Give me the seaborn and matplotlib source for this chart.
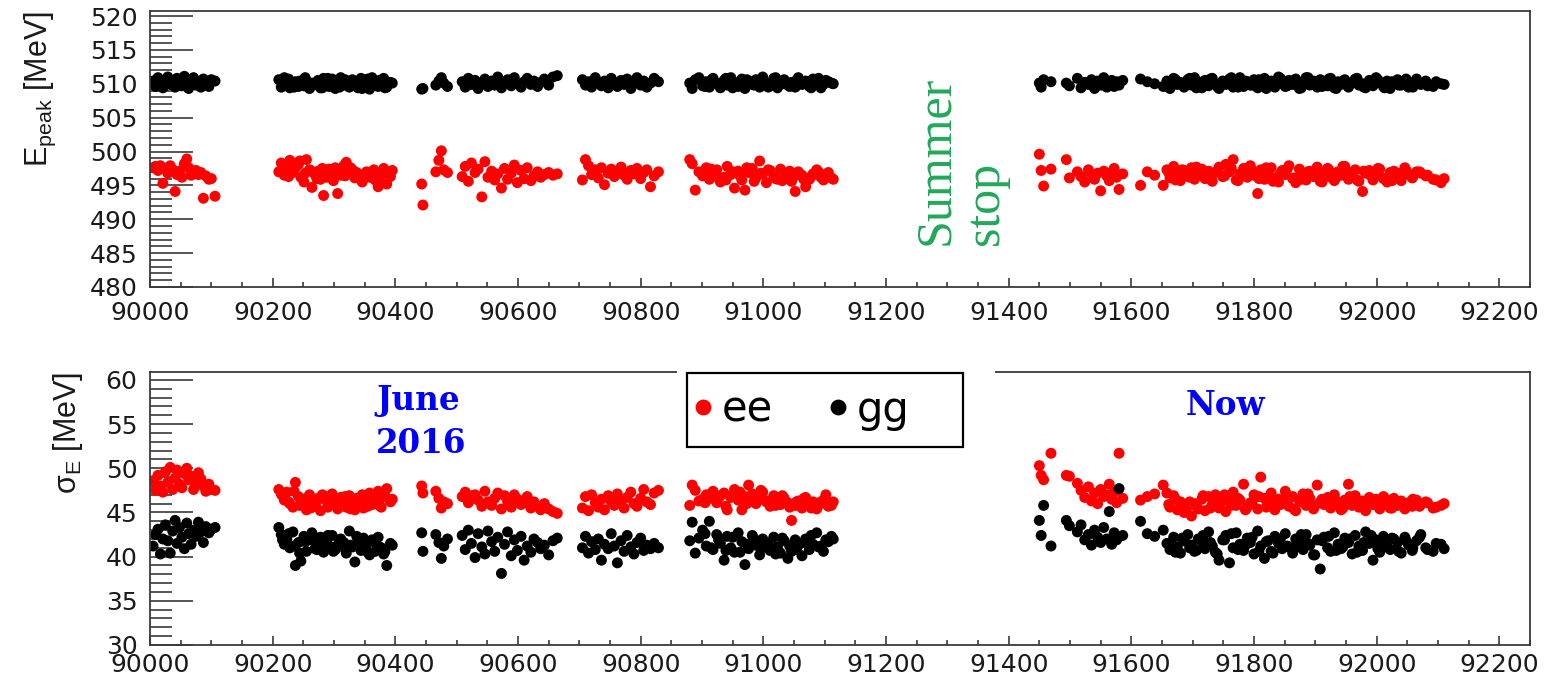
import matplotlib
matplotlib.use("Agg")
import matplotlib.pyplot as plt
import pandas as pd
import seaborn as sns
from matplotlib.ticker import MultipleLocator
from matplotlib.patches import Rectangle

# ---------------- data ----------------
run = [
    # block 1
    90005, 90009, 90013, 90017, 90021, 90025, 90029, 90033, 90037, 90041, 90044, 90048, 90052,
    90056, 90060, 90063, 90067, 90071, 90075, 90079, 90083, 90087, 90091, 90096, 90100, 90106,
    # block 2
    90210, 90214, 90219, 90223, 90228, 90233, 90237, 90242, 90246, 90251, 90255, 90260, 90264,
    90269, 90274, 90278, 90283, 90288, 90292, 90297, 90302, 90306, 90311, 90316, 90320, 90325,
    90330, 90334, 90339, 90344, 90348, 90353, 90358, 90362, 90367, 90372, 90377, 90381, 90386, 90392,
    # block 3
    90443, 90445, 90466, 90471, 90475, 90479, 90485,
    90509, 90514, 90519, 90524, 90530, 90535, 90541, 90546, 90551, 90557, 90562, 90567, 90573,
    90578, 90583, 90589, 90594, 90599, 90605, 90610, 90615, 90621, 90626, 90632, 90637, 90643,
    90650, 90657, 90664,
    # block 4
    90705, 90710, 90715, 90720, 90726, 90731, 90736, 90741, 90747, 90752, 90757, 90762, 90768,
    90773, 90778, 90784, 90789, 90794, 90800, 90805, 90810, 90816, 90822, 90829,
    # block 5
    90880, 90884, 90889, 90895, 90901, 90907, 90912, 90918, 90924, 90930, 90936, 90941, 90947,
    90953, 90959, 90965, 90970, 90976, 90982, 90988, 90994, 90999, 91005, 91011, 91017, 91023,
    91028, 91034, 91040, 91046, 91052, 91057, 91063, 91069, 91075, 91081, 91087, 91094, 91102, 91111,
    # block 6
    91450, 91453, 91457, 91469, 91494, 91499, 91512, 91518, 91524, 91530, 91535, 91540, 91545,
    91550, 91555, 91560, 91564, 91568, 91572, 91576, 91580, 91586,
    # block 7
    91615, 91626, 91638, 91652, 91658, 91663, 91669, 91675, 91680, 91686,
    91692, 91698, 91703, 91709, 91715, 91720, 91726, 91732, 91737, 91743,
    91749, 91754, 91760, 91766, 91771, 91777, 91783, 91789, 91794, 91800,
    91806, 91811, 91817, 91823, 91828, 91834, 91840, 91846, 91851, 91857,
    91863, 91868, 91874, 91880, 91885, 91891, 91897, 91903, 91908, 91914,
    91920, 91925, 91931, 91937, 91942, 91948, 91954, 91960, 91965, 91971,
    91977, 91982, 91988, 91994, 91999, 92005, 92011, 92017, 92022, 92028,
    92034, 92040, 92046, 92052, 92058, 92065, 92072, 92080, 92092, 92105,
    # further runs of block 7
    91661, 91672, 91683, 91695, 91706, 91717, 91729, 91740, 91752, 91763,
    91774, 91786, 91797, 91808, 91820, 91831, 91843, 91854, 91865, 91877,
    91888, 91899, 91911, 91922, 91934, 91945, 91956, 91968, 91979, 91991,
    92002, 92013, 92025, 92036, 92048, 92059, 92070, 92083, 92097, 92110,
    # further runs of block 2
    90216, 90226, 90235, 90244, 90253, 90262, 90272, 90281, 90290, 90299,
    90309, 90318, 90327, 90337, 90346, 90355, 90365, 90374, 90383, 90395,
    # further runs of block 5
    90905, 90915, 90927, 90939, 90950, 90962, 90973, 90985, 90996, 91008,
    91020, 91031, 91043, 91054, 91066, 91078, 91090, 91098, 91106, 91114,
]

epeak_ee = [
    497.6, 497.8, 497.2, 497.9, 495.3, 497.5, 496.8, 497.9, 497.3, 494.1, 496.6, 497.1, 496.2,
    498.2, 498.9, 497.6, 496.5, 496.9, 497.2, 496.6, 496.9, 493.1, 496.4, 495.9, 496.0, 493.4,
    497.0, 498.3, 496.5, 497.8, 498.7, 496.9, 497.6, 498.1, 496.2, 495.5, 498.8, 497.3, 494.7,
    496.6, 497.1, 495.9, 493.5, 496.2, 497.4, 496.8, 497.6, 493.8, 496.5, 497.9, 498.4, 496.9,
    497.3, 496.1, 496.7, 495.9, 496.4, 497.0, 496.2, 496.6, 495.8, 494.8, 496.9, 497.5, 495.2, 496.3,
    495.2, 492.1, 497.0, 498.7, 500.1, 497.3, 496.9,
    496.3, 497.8, 495.6, 498.3, 496.9, 497.4, 493.3, 498.5, 496.2, 497.1, 495.8, 496.7, 494.6,
    497.5, 495.9, 496.8, 498.0, 495.4, 497.2, 496.0, 497.6, 495.7, 496.4, 497.0, 496.2, 496.6,
    496.9, 496.5, 496.7,
    495.8, 498.8, 497.9, 496.6, 497.3, 496.1, 497.6, 495.1, 496.8, 497.4, 496.3, 497.0, 497.7,
    496.5, 495.9, 497.2, 496.7, 497.5, 496.0, 496.9, 497.3, 494.8, 496.4, 497.0,
    498.8, 498.2, 494.3, 497.0, 496.4, 497.6, 495.9, 496.8, 497.3, 495.5, 496.2, 497.8, 496.6,
    494.6, 497.1, 495.8, 494.3, 496.9, 497.5, 496.1, 498.6, 496.7, 495.4, 497.2, 496.3, 495.9,
    497.4, 496.0, 496.8, 495.6, 494.1, 497.0, 496.5, 494.8, 495.9, 496.7, 497.3, 496.2, 496.6, 496.1,
    499.6, 497.2, 494.9, 497.4, 498.8, 496.1, 497.0, 496.3, 495.5, 497.3, 496.6, 495.9, 496.8,
    494.2, 497.1, 496.4, 495.7, 496.9, 497.5, 496.2, 494.4, 496.7,
    495.0, 497.0, 496.5, 495.0, 497.3, 496.1, 497.8, 496.6, 495.7, 497.2,
    496.4, 497.6, 495.9, 496.8, 497.4, 496.0, 497.1, 495.6, 496.9, 497.7,
    496.3, 498.1, 497.0, 498.8, 495.8, 496.7, 497.5, 496.2, 497.9, 496.5,
    493.8, 497.3, 495.9, 496.8, 497.6, 496.1, 495.5, 497.2, 496.6, 497.9,
    496.0, 495.4, 497.4, 496.7, 495.8, 497.1, 496.3, 497.7, 495.6, 496.9,
    497.5, 496.2, 495.7, 497.0, 496.5, 497.8, 495.9, 496.4, 497.3, 495.6,
    494.1, 496.8, 497.2, 495.8, 496.5, 497.4, 496.0, 495.5, 496.9, 497.1,
    496.3, 495.7, 497.6, 496.6, 496.1, 497.0, 496.8, 496.4, 495.9, 495.4,
    496.9, 495.8, 497.3, 496.2, 497.7, 496.5, 495.9, 497.1, 496.4, 497.5,
    495.7, 496.8, 497.2, 496.0, 497.6, 495.6, 496.7, 497.4, 496.1, 495.9,
    497.0, 496.6, 495.5, 497.3, 496.2, 497.8, 496.9, 495.8, 497.1, 496.4,
    497.5, 496.0, 495.7, 496.8, 497.2, 496.3, 497.0, 496.5, 495.8, 496.0,
    497.4, 496.3, 497.9, 498.6, 496.8, 497.2, 496.0, 497.5, 496.6, 495.7,
    497.1, 496.4, 497.6, 496.9, 495.5, 496.7, 497.3, 496.1, 496.8, 497.2,
    496.9, 497.4, 496.1, 495.8, 497.0, 496.4, 497.6, 495.6, 496.8, 497.3,
    496.0, 495.7, 497.1, 496.5, 495.9, 496.3, 497.0, 495.8, 496.9, 495.9,
]

epeak_gg = [
    510.4, 509.6, 510.9, 510.1, 509.4, 510.6, 511.0, 509.9, 510.3, 509.5, 510.8, 510.2, 509.7,
    511.1, 510.0, 509.3, 510.5, 510.9, 509.8, 510.2, 509.5, 510.7, 510.1, 509.6, 510.6, 510.4,
    510.6, 509.5, 510.9, 510.2, 509.4, 509.8, 510.3, 509.6, 510.0, 509.7, 510.4, 509.3, 510.1,
    509.9, 510.5, 509.4, 510.8, 510.0, 509.6, 510.7, 509.3, 510.2, 510.9, 509.8, 510.4, 509.5,
    510.6, 510.1, 509.4, 510.8, 509.7, 510.3, 509.2, 510.9, 510.0, 509.6, 510.5, 510.8, 509.5, 510.2,
    509.2, 509.3, 509.8, 510.4, 510.9, 510.1, 509.6,
    510.3, 509.5, 510.8, 509.9, 510.5, 509.3, 510.1, 510.7, 509.6, 510.4, 509.8, 511.0, 509.4,
    510.2, 510.6, 509.7, 510.9, 510.0, 509.5, 510.3, 510.8, 509.9, 510.4, 509.6, 510.2, 510.7,
    509.8, 511.0, 511.2,
    510.6, 509.8, 510.3, 509.5, 510.9, 510.1, 509.7, 510.4, 509.4, 510.8, 510.0, 509.6, 510.5,
    509.9, 510.7, 509.3, 510.2, 510.9, 509.8, 510.4, 509.5, 510.1, 510.8, 510.3,
    510.1, 509.3, 510.6, 510.9, 509.7, 510.3, 509.5, 510.8, 510.0, 509.4, 510.5, 509.8, 510.9,
    510.2, 509.6, 510.7, 509.3, 510.4, 509.9, 510.6, 509.5, 511.0, 510.1, 509.7, 510.8, 509.4,
    510.3, 510.6, 509.8, 510.2, 509.5, 510.9, 509.9, 510.4, 509.6, 510.7, 510.0, 509.4, 510.5, 510.1,
    510.1, 509.5, 510.6, 510.3, 510.1, 509.7, 510.8, 509.4, 510.2, 509.9, 510.6, 509.3, 510.4,
    509.8, 510.9, 509.5, 510.0, 510.5, 509.6, 510.3, 509.8, 510.5,
    510.7, 510.3, 510.0, 509.6, 510.4, 509.3, 510.8, 509.9, 510.2, 509.5,
    510.6, 509.8, 510.9, 510.1, 509.4, 510.5, 509.7, 510.8, 510.0, 509.3,
    510.4, 509.9, 510.7, 509.5, 510.2, 510.9, 509.6, 510.3, 509.8, 510.6,
    509.4, 510.1, 510.8, 509.7, 510.4, 509.5, 511.0, 510.0, 509.6, 510.5,
    509.9, 510.7, 509.3, 510.2, 510.9, 509.8, 510.4, 509.5, 510.6, 510.1,
    509.7, 510.8, 509.4, 510.3, 509.9, 510.6, 509.5, 510.2, 510.7, 509.8,
    510.0, 509.4, 510.5, 509.7, 510.9, 510.2, 509.6, 510.4, 509.3, 510.0,
    510.6, 509.8, 510.3, 509.5, 510.1, 510.7, 509.9, 510.4, 509.6, 510.0,
    509.5, 510.6, 509.9, 510.8, 509.4, 510.3, 510.7, 509.6, 510.1, 510.9,
    509.5, 510.4, 509.8, 510.6, 509.3, 510.2, 510.8, 509.7, 510.5, 509.4,
    510.9, 510.0, 509.6, 510.7, 509.3, 510.4, 509.9, 510.8, 509.5, 510.2,
    510.6, 509.4, 510.3, 509.8, 510.7, 509.5, 510.1, 509.7, 510.3, 509.9,
    509.9, 510.7, 509.5, 510.4, 510.9, 509.6, 510.2, 509.4, 510.8, 510.0,
    509.5, 510.6, 509.8, 510.3, 509.3, 510.7, 509.9, 510.5, 509.4, 510.1,
    509.6, 510.5, 510.0, 510.8, 509.4, 510.2, 510.6, 509.8, 510.3, 509.5,
    510.9, 510.0, 509.6, 510.5, 510.2, 509.4, 510.8, 509.9, 510.3, 510.0,
]

sigma_ee = [
    48.6, 47.5, 49.2, 48.0, 47.3, 49.6, 48.4, 50.1, 47.6, 48.9, 49.8, 48.2, 47.8,
    49.4, 50.0, 48.7, 49.1, 47.6, 48.3, 49.5, 48.8, 48.0, 47.4, 48.2, 47.6, 47.5,
    47.6, 47.1, 46.4, 47.3, 46.0, 45.6, 48.4, 46.8, 45.9, 46.5, 45.3, 47.0, 46.2,
    45.7, 46.6, 45.2, 46.9, 46.3, 45.8, 47.1, 46.0, 45.4, 46.7, 46.1, 45.6, 46.9,
    46.4, 45.3, 46.0, 46.7, 45.5, 46.2, 47.2, 45.9, 46.5, 47.4, 45.6, 46.8, 47.7, 46.2,
    48.0, 47.2, 47.4, 46.6, 45.5, 46.2, 46.0,
    46.8, 47.3, 46.1, 46.9, 47.0, 46.4, 45.7, 47.4, 46.2, 45.8, 46.6, 47.2, 45.4,
    46.9, 46.3, 45.6, 47.0, 46.5, 45.9, 46.1, 46.8, 45.5, 46.2, 45.7, 45.3, 46.0,
    45.4, 45.1, 44.9,
    45.5, 46.8, 45.2, 47.0, 46.1, 45.6, 46.5, 45.3, 46.9, 46.2, 45.8, 47.1, 46.4,
    45.5, 46.7, 47.3, 46.0, 45.7, 46.6, 47.6, 46.2, 45.9, 47.2, 47.5,
    45.8, 48.1, 47.5, 46.3, 46.5, 47.0, 46.6, 47.4, 46.1, 46.9, 47.2, 45.3, 46.7,
    47.6, 46.4, 45.3, 46.8, 48.1, 47.1, 46.0, 46.5, 47.3, 46.2, 45.7, 46.9, 46.4,
    45.9, 46.6, 46.1, 44.1, 45.8, 46.3, 45.5, 46.7, 45.9, 46.2, 45.4, 46.0, 47.0, 45.8,
    50.3, 49.2, 48.7, 51.7, 49.2, 49.1, 48.3, 47.5, 46.7, 47.9, 46.3, 47.2, 46.0,
    47.6, 46.8, 47.0, 48.2, 46.5, 47.3, 46.1, 51.7, 46.6,
    46.4, 46.8, 47.1, 48.1, 47.2, 45.6, 46.9, 45.3, 46.2, 45.0,
    45.7, 44.6, 46.0, 45.4, 46.5, 45.2, 46.8, 45.9, 47.0, 45.5,
    46.3, 45.1, 46.7, 47.3, 45.8, 46.4, 48.2, 45.6, 46.1, 47.0,
    45.4, 49.0, 46.6, 45.9, 47.2, 45.3, 46.5, 46.0, 47.4, 45.7,
    46.8, 45.2, 46.3, 47.1, 45.8, 46.6, 45.4, 48.1, 46.2, 45.9,
    46.7, 45.5, 47.0, 46.1, 45.3, 46.4, 48.2, 45.8, 46.9, 45.6,
    46.3, 45.2, 46.7, 45.9, 46.5, 45.4, 46.8, 46.0, 45.5, 46.6,
    45.8, 46.3, 45.4, 46.1, 45.7, 46.4, 45.9, 46.2, 45.5, 45.8,
    45.9, 46.5, 45.4, 46.2, 45.7, 46.9, 45.5, 46.3, 47.0, 45.8,
    46.6, 45.3, 46.1, 46.8, 45.6, 46.4, 45.9, 46.7, 45.4, 46.2,
    47.1, 45.7, 46.5, 45.9, 46.3, 45.5, 46.8, 46.0, 45.6, 46.4,
    45.8, 46.6, 45.5, 46.2, 45.9, 46.5, 45.7, 46.1, 45.6, 46.0,
    46.9, 46.2, 47.4, 45.8, 46.5, 45.5, 46.3, 47.0, 45.6, 46.4,
    45.9, 46.8, 45.4, 46.6, 47.0, 45.7, 46.3, 45.8, 46.9, 46.5,
    46.1, 47.1, 46.6, 45.7, 46.9, 47.3, 46.0, 46.7, 47.5, 46.3,
    45.8, 46.9, 45.6, 46.2, 46.6, 45.5, 46.1, 46.4, 45.7, 46.2,
]

sigma_gg = [
    41.2, 42.5, 43.1, 40.3, 42.0, 43.6, 41.8, 40.4, 42.9, 44.1, 41.5, 43.3, 42.2,
    40.9, 43.8, 42.6, 41.4, 43.0, 42.3, 43.9, 42.8, 41.6, 43.4, 42.7, 43.1, 43.3,
    43.3, 42.5, 41.4, 42.0, 41.0, 42.8, 39.0, 41.6, 39.5, 42.3, 40.6, 41.9, 42.7,
    40.9, 41.5, 42.2, 40.5, 41.8, 41.2, 42.4, 40.8, 41.3, 42.0, 41.6, 40.4, 42.9,
    41.1, 39.4, 41.7, 40.7, 42.1, 41.4, 40.2, 41.9, 40.6, 42.2, 41.0, 40.3, 39.0, 41.5,
    42.7, 40.6, 42.5, 41.6, 39.8, 41.2, 42.0,
    42.4, 40.8, 43.0, 41.5, 39.9, 42.6, 41.1, 40.3, 42.9, 41.7, 40.6, 42.2, 38.1,
    41.4, 42.8, 40.1, 41.9, 40.7, 42.3, 39.6, 41.2, 40.5, 42.0, 41.6, 40.9, 41.3,
    40.2, 41.8, 42.1,
    41.0, 42.3, 40.4, 41.7, 40.8, 42.0, 39.6, 41.4, 40.9, 42.6, 41.2, 39.3, 41.8,
    40.6, 42.4, 41.1, 40.3, 41.6, 42.1, 40.7, 41.3, 40.9, 41.5, 41.0,
    41.8, 43.9, 40.4, 42.1, 43.0, 41.2, 44.0, 40.8, 42.5, 41.5, 39.6, 42.3, 41.0,
    40.5, 42.7, 41.7, 39.1, 40.9, 42.4, 41.3, 40.2, 42.0, 41.6, 40.7, 42.2, 41.1,
    40.4, 41.8, 39.8, 40.6, 41.9, 41.3, 40.1, 42.0, 40.8, 41.4, 42.7, 41.2, 41.9, 42.3,
    44.1, 42.4, 45.8, 41.2, 44.1, 43.5, 42.8, 43.6, 41.9, 42.5, 41.3, 43.0, 42.2,
    41.6, 43.3, 42.0, 45.1, 41.4, 42.7, 41.9, 47.7, 42.4,
    44.0, 42.6, 42.3, 43.0, 41.5, 40.8, 42.2, 41.1, 40.4, 41.8,
    42.5, 41.3, 40.6, 42.0, 41.7, 40.9, 42.8, 41.2, 40.5, 39.6,
    41.9, 42.4, 39.3, 41.0, 42.7, 41.4, 40.7, 42.1, 41.6, 40.3,
    42.9, 41.2, 39.8, 41.8, 40.6, 42.3, 41.5, 40.9, 42.6, 41.1,
    40.4, 42.0, 41.7, 40.8, 42.5, 41.3, 40.2, 41.9, 38.6, 42.2,
    41.0, 40.6, 42.7, 41.4, 40.9, 42.1, 41.6, 40.3, 42.4, 41.2,
    40.7, 42.8, 41.5, 39.6, 41.9, 40.5, 42.3, 41.1, 40.8, 42.0,
    41.6, 40.4, 42.2, 41.3, 40.7, 41.8, 42.5, 41.0, 40.6, 41.4,
    41.4, 40.5, 42.1, 41.0, 40.7, 42.4, 41.6, 40.3, 41.9, 42.6,
    40.8, 41.3, 42.2, 40.6, 41.7, 40.4, 42.0, 41.2, 40.9, 42.5,
    41.5, 40.2, 41.8, 42.3, 40.7, 41.1, 42.0, 40.5, 41.6, 42.4,
    40.9, 41.3, 42.1, 40.6, 41.8, 41.0, 42.2, 40.8, 41.5, 40.9,
    41.9, 42.6, 41.2, 40.4, 41.7, 42.1, 40.8, 41.5, 42.4, 40.6,
    41.9, 40.9, 41.3, 42.3, 41.0, 40.5, 41.7, 41.1, 40.6, 41.3,
    42.6, 41.0, 41.9, 40.7, 42.2, 40.5, 41.4, 42.0, 40.9, 41.5,
    40.3, 42.1, 41.2, 40.8, 41.6, 42.4, 41.1, 40.6, 41.7, 42.0,
]

x_ticks = [90000, 90200, 90400, 90600, 90800, 91000, 91200, 91400, 91600, 91800, 92000, 92200]
top_yticks = [480, 485, 490, 495, 500, 505, 510, 515, 520]
bot_yticks = [30, 35, 40, 45, 50, 55, 60]
series_names = ["ee", "gg"]
series_colors = {"ee": "#ff0000", "gg": "#000000"}

# ---------------- figure ----------------
sns.set_style("white")
plt.rcParams["font.family"] = ["DejaVu Sans"]
plt.rcParams["mathtext.fontset"] = "custom"
plt.rcParams["mathtext.rm"] = "Liberation Sans"
plt.rcParams["mathtext.it"] = "Liberation Sans:italic"
plt.rcParams["mathtext.bf"] = "Liberation Sans:bold"

W, H = 1550, 675
fig = plt.figure(figsize=(W / 100, H / 100), dpi=100)
fig.patch.set_facecolor("white")
ax1 = fig.add_axes([150 / W, 1 - 287 / H, 1380 / W, 276 / H])
ax2 = fig.add_axes([150 / W, 1 - 645 / H, 1380 / W, 273 / H])

n = len(run)
top_df = pd.DataFrame({"run": run + run, "value": epeak_ee + epeak_gg,
                       "type": [series_names[0]] * n + [series_names[1]] * n})
bot_df = pd.DataFrame({"run": run + run, "value": sigma_ee + sigma_gg,
                       "type": [series_names[0]] * n + [series_names[1]] * n})

MS = 62
sns.scatterplot(data=top_df, x="run", y="value", hue="type", palette=series_colors,
                s=MS, linewidth=0, ax=ax1, legend=False)
sns.scatterplot(data=bot_df, x="run", y="value", hue="type", palette=series_colors,
                s=MS, linewidth=0, ax=ax2, legend=True)
handles, labels = ax2.get_legend_handles_labels()
ax2.get_legend().remove()


def style(ax, ylim, yticks, ylabel, label_x, xpad):
    ax.set_xlim(90000, 92250)
    ax.set_ylim(*ylim)
    ax.set_xticks(x_ticks)
    ax.set_xticklabels([str(t) for t in x_ticks])
    ax.xaxis.set_minor_locator(MultipleLocator(50))
    ax.set_yticks(yticks)
    ax.set_yticklabels([str(t) for t in yticks])
    ax.yaxis.set_minor_locator(MultipleLocator(1))
    ax.tick_params(axis="both", which="both", direction="in", color="#3a3a3a",
                   width=1.2, top=False, right=False, bottom=True, left=True,
                   labelcolor="#1a1a1a")
    ax.tick_params(axis="y", which="major", length=31, pad=9, labelsize=18)
    ax.tick_params(axis="y", which="minor", length=16)
    ax.tick_params(axis="x", which="major", length=6.5, pad=xpad, labelsize=18)
    ax.tick_params(axis="x", which="minor", length=3.6)
    for sp in ax.spines.values():
        sp.set_color("#3a3a3a")
        sp.set_linewidth(1.3)
    ax.set_xlabel("")
    ax.set_ylabel(ylabel, fontsize=22, loc="top", color="#1a1a1a",
                  family=["Liberation Sans", "DejaVu Sans"])
    ax.yaxis.set_label_coords(label_x, 1.0)


style(ax1, (480, 520.74), top_yticks, r"E$_{\mathrm{peak}}$ [MeV]", -0.067, 10)
style(ax2, (30, 60.9), bot_yticks, r"σ$_{\mathrm{E}}$ [MeV]", -0.047, 5.5)

# annotations
green = "#22a85a"
serif = ["Liberation Serif", "DejaVu Serif"]
wide_serif = ["DejaVu Serif"]
ax1.text(91301, 486.2, "Summer", rotation=90, rotation_mode="anchor", ha="left",
         va="baseline", color=green, fontsize=36, family=serif)
ax1.text(91382, 486.2, "stop", rotation=90, rotation_mode="anchor", ha="left",
         va="baseline", color=green, fontsize=36, family=serif)
ax2.text(90369, 56.6, "June", ha="left", va="baseline", color="#0000ff", fontsize=23.5,
         fontweight="bold", family=wide_serif)
ax2.text(90369, 51.7, "2016", ha="left", va="baseline", color="#0000ff", fontsize=23.5,
         fontweight="bold", family=wide_serif)
ax2.text(91688, 56.0, "Now", ha="left", va="baseline", color="#0000ff", fontsize=23.5,
         fontweight="bold", family=wide_serif)

# white gap in the lower frame behind the legend, and the legend frame
fig.add_artist(Rectangle((677 / W, 1 - 376 / H), (995 - 677) / W, 8 / H,
                         transform=fig.transFigure, facecolor="white",
                         edgecolor="none", zorder=4))
fig.add_artist(Rectangle((687 / W, 1 - 447 / H), (963 - 687) / W, (447 - 373) / H,
                         transform=fig.transFigure, facecolor="white",
                         edgecolor="black", linewidth=1.6, zorder=5))

leg = fig.legend(handles, labels, loc="center left", bbox_to_anchor=(690 / W, 1 - 410 / H),
                 ncol=2, frameon=False, fontsize=30, markerscale=1.45,
                 handletextpad=0.16, columnspacing=1.25, borderpad=0,
                 handlelength=0.6, borderaxespad=0, labelcolor="black")
leg.set_zorder(6)

fig.savefig("out.png", dpi=100, facecolor="white")
